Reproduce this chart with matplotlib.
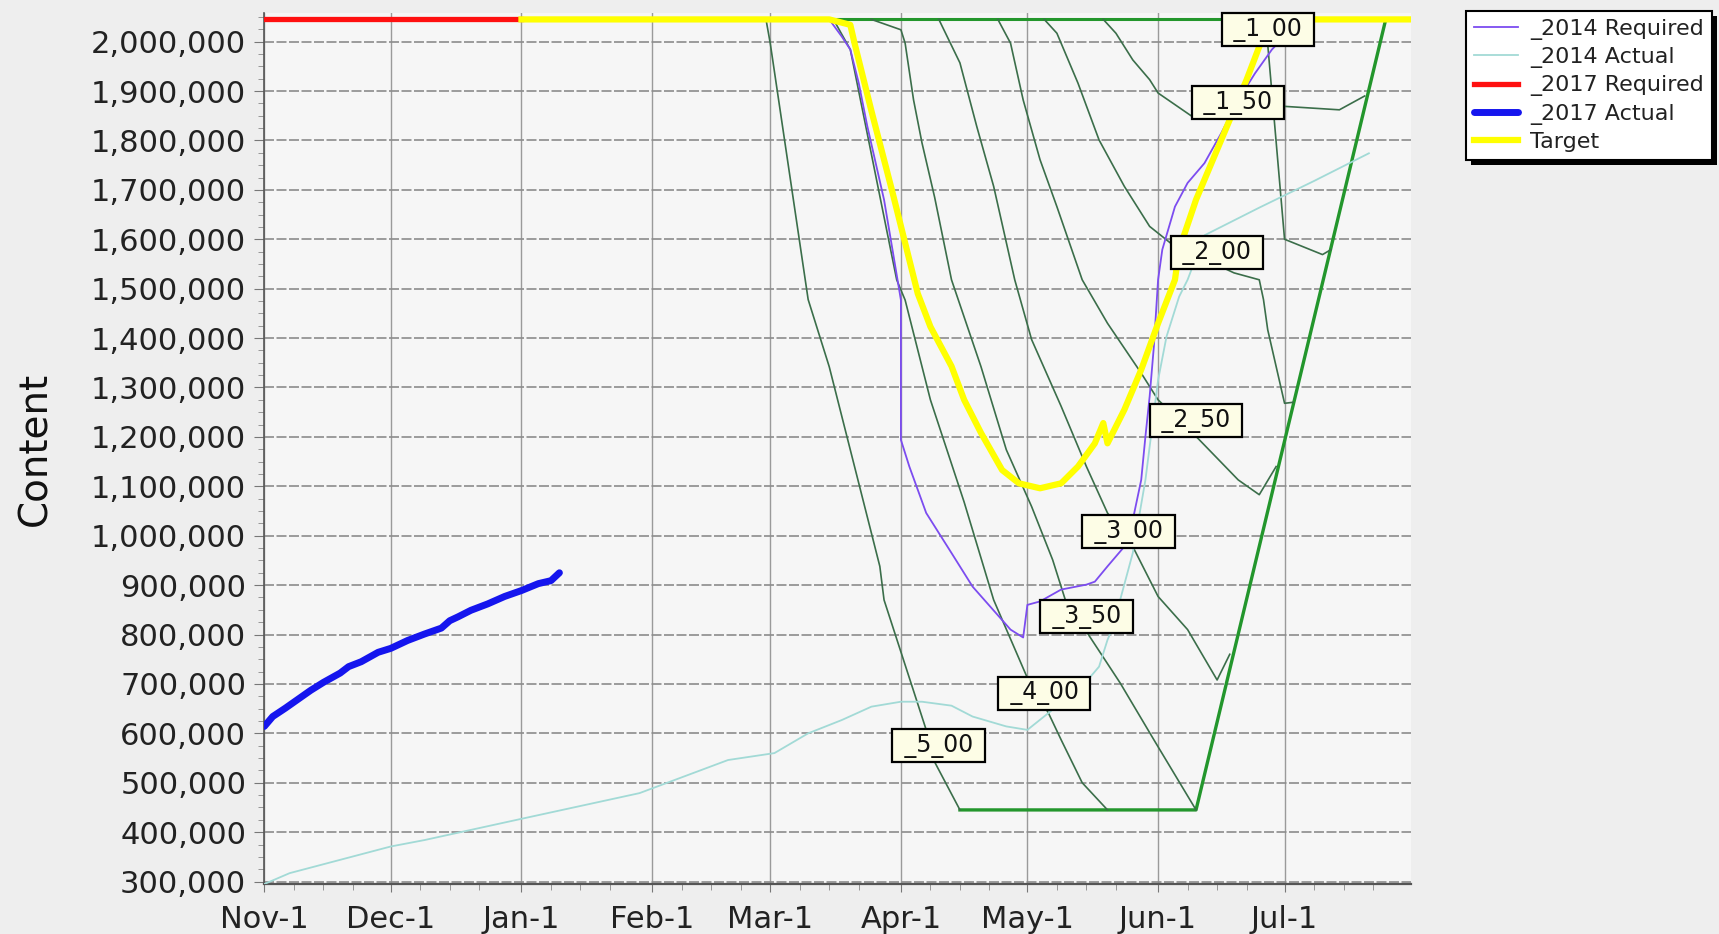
import numpy as np
import pandas as pd
import matplotlib
matplotlib.use("Agg")
import matplotlib.pyplot as plt
import matplotlib.dates as mdates
from matplotlib.ticker import FuncFormatter, MultipleLocator
from matplotlib.patches import Rectangle

# ------------------------------------------------------------
# Data (content values in thousands)
# ------------------------------------------------------------
req17_dates = ["2016-11-01", "2017-01-01"]
req17_vals = [2045, 2045]

act17_dates = ["2016-11-01", "2016-11-03", "2016-11-06", "2016-11-09", "2016-11-12",
               "2016-11-15", "2016-11-19", "2016-11-21", "2016-11-24", "2016-11-28",
               "2016-12-01", "2016-12-05", "2016-12-09", "2016-12-13", "2016-12-15",
               "2016-12-17", "2016-12-20", "2016-12-24", "2016-12-28", "2017-01-01",
               "2017-01-05", "2017-01-08", "2017-01-10"]
act17_vals = [614, 634, 651, 669, 687, 703, 722, 735, 745, 764, 772, 788, 801, 813,
              828, 836, 849, 862, 877, 889, 903, 909, 925]

act14_dates = ["2016-11-01", "2016-11-07", "2016-12-01", "2016-12-09", "2017-01-01",
               "2017-01-29", "2017-02-19", "2017-03-02", "2017-03-10", "2017-03-18",
               "2017-03-25", "2017-04-01", "2017-04-06", "2017-04-13", "2017-04-18",
               "2017-04-26", "2017-05-01", "2017-05-07", "2017-05-14", "2017-05-18",
               "2017-05-20", "2017-05-22", "2017-05-23", "2017-05-26", "2017-05-29",
               "2017-06-01", "2017-06-03", "2017-06-06", "2017-06-08", "2017-06-12",
               "2017-06-25", "2017-07-08", "2017-07-21"]
act14_vals = [295, 317, 371, 384, 427, 479, 546, 560, 600, 627, 654, 664, 664, 656,
              634, 614, 607, 648, 695, 735, 789, 830, 870, 965, 1113, 1315, 1403,
              1484, 1518, 1608, 1664, 1718, 1774]

req14_dates = ["2017-03-15", "2017-03-18", "2017-03-20", "2017-03-22", "2017-03-24",
               "2017-03-28", "2017-03-30", "2017-04-01", "2017-04-01", "2017-04-03",
               "2017-04-07", "2017-04-13", "2017-04-18", "2017-04-27", "2017-04-30",
               "2017-05-01", "2017-05-04", "2017-05-09", "2017-05-15", "2017-05-17",
               "2017-05-20", "2017-05-24", "2017-05-26", "2017-05-28", "2017-05-29",
               "2017-05-30", "2017-05-31", "2017-06-01", "2017-06-02", "2017-06-05",
               "2017-06-08", "2017-06-12", "2017-06-16", "2017-06-20", "2017-06-24",
               "2017-06-28", "2017-07-01"]
req14_vals = [2045, 2010, 1984, 1916, 1830, 1680, 1579, 1477, 1194, 1140, 1046, 965,
              897, 810, 794, 860, 867, 891, 901, 907, 938, 978, 1032, 1113, 1201,
              1282, 1383, 1518, 1579, 1666, 1714, 1754, 1815, 1882, 1936, 1984, 2011]

target_dates = ["2017-01-01", "2017-03-15", "2017-03-20", "2017-03-21", "2017-03-25",
                "2017-03-30", "2017-04-05", "2017-04-08", "2017-04-13", "2017-04-16",
                "2017-04-20", "2017-04-25", "2017-04-29", "2017-05-04", "2017-05-09",
                "2017-05-13", "2017-05-17", "2017-05-19", "2017-05-20", "2017-05-24",
                "2017-05-28", "2017-06-01", "2017-06-05", "2017-06-06", "2017-06-10",
                "2017-06-14", "2017-06-18", "2017-06-22", "2017-06-25", "2017-06-27",
                "2017-06-30", "2017-07-31"]
target_vals = [2045, 2045, 2034, 1997, 1860, 1695, 1490, 1423, 1343, 1275, 1208, 1133,
               1106, 1096, 1106, 1140, 1187, 1228, 1187, 1255, 1336, 1430, 1518, 1579,
               1680, 1761, 1842, 1923, 1990, 2025, 2045, 2045]

# green guide curves
top_dates = ["2017-02-28", "2017-07-31"]
top_vals = [2045, 2045]
floor_dates = ["2017-04-15", "2017-06-10", "2017-07-25"]
floor_vals = [445, 445, 2045]

g500_dates = ["2017-02-28", "2017-03-01", "2017-03-10", "2017-03-15", "2017-03-21",
              "2017-03-27", "2017-03-28", "2017-04-07", "2017-04-09", "2017-04-15"]
g500_vals = [2045, 1997, 1478, 1342, 1140, 938, 870, 607, 542, 445]

g400_dates = ["2017-03-16", "2017-03-20", "2017-03-31", "2017-04-02", "2017-04-08",
              "2017-04-16", "2017-04-23", "2017-05-01", "2017-05-06", "2017-05-09",
              "2017-05-14", "2017-05-20"]
g400_vals = [2045, 1984, 1518, 1477, 1275, 1068, 870, 712, 641, 587, 500, 445]

g350_dates = ["2017-03-25", "2017-04-01", "2017-04-02", "2017-04-04", "2017-04-06",
              "2017-04-09", "2017-04-13", "2017-04-20", "2017-04-26", "2017-05-02",
              "2017-05-07", "2017-05-10", "2017-05-15", "2017-05-23", "2017-05-31",
              "2017-06-10"]
g350_vals = [2045, 2024, 1997, 1882, 1795, 1685, 1518, 1342, 1174, 1059, 951, 870,
             806, 702, 587, 445]

g300_dates = ["2017-04-10", "2017-04-15", "2017-04-19", "2017-04-23", "2017-04-28",
              "2017-05-02", "2017-05-09", "2017-05-15", "2017-05-20", "2017-05-26",
              "2017-06-01", "2017-06-08", "2017-06-15", "2017-06-18"]
g300_vals = [2045, 1957, 1828, 1707, 1518, 1397, 1262, 1140, 1046, 978, 877, 810,
             708, 760]

g250_dates = ["2017-04-24", "2017-04-27", "2017-04-30", "2017-05-04", "2017-05-08",
              "2017-05-14", "2017-05-20", "2017-05-28", "2017-06-01", "2017-06-10",
              "2017-06-20", "2017-06-25", "2017-06-29"]
g250_vals = [2045, 1997, 1882, 1761, 1666, 1518, 1430, 1329, 1275, 1201, 1113, 1083,
             1140]

g200_dates = ["2017-05-05", "2017-05-08", "2017-05-13", "2017-05-18", "2017-05-24",
              "2017-05-30", "2017-06-04", "2017-06-19", "2017-06-25", "2017-06-26",
              "2017-06-27", "2017-07-01", "2017-07-03"]
g200_vals = [2045, 2017, 1916, 1801, 1707, 1626, 1592, 1532, 1518, 1478, 1417, 1268,
             1270]

g150_dates = ["2017-05-19", "2017-05-22", "2017-05-26", "2017-05-30", "2017-06-01",
              "2017-06-09", "2017-07-01", "2017-07-14", "2017-07-20"]
g150_vals = [2045, 2017, 1963, 1923, 1896, 1849, 1869, 1862, 1890]

g100_dates = ["2017-06-26", "2017-06-27", "2017-07-01", "2017-07-10", "2017-07-12"]
g100_vals = [2045, 1995, 1600, 1569, 1579]

label_names = ["_1_00", "_1_50", "_2_00", "_2_50", "_3_00", "_3_50", "_4_00", "_5_00"]
label_dates = ["2017-06-27", "2017-06-20", "2017-06-15", "2017-06-10", "2017-05-25",
               "2017-05-15", "2017-05-05", "2017-04-10"]
label_vals = [2024, 1876, 1573, 1233, 1008, 836, 681, 575]


def dt(lst):
    return pd.to_datetime(lst)


def kv(lst):
    return np.array(lst) * 1000.0


# ------------------------------------------------------------
# Figure
# ------------------------------------------------------------
plt.rcParams["font.family"] = "DejaVu Sans"
fig = plt.figure(figsize=(17.19, 9.34), dpi=100, facecolor="#eeeeee")
ax = fig.add_axes([0.15375, 0.0535, 0.6671, 0.9326])
ax.set_facecolor("#f6f6f6")

dark_green = "#3b6e4a"
bright_green = "#23962c"

ax.plot(dt(top_dates), kv(top_vals), color=bright_green, lw=2.2, zorder=2)
ax.plot(dt(floor_dates), kv(floor_vals), color=bright_green, lw=2.4, zorder=2)
for dd, vv in [(g500_dates, g500_vals), (g400_dates, g400_vals), (g350_dates, g350_vals),
               (g300_dates, g300_vals), (g250_dates, g250_vals), (g200_dates, g200_vals),
               (g150_dates, g150_vals), (g100_dates, g100_vals)]:
    ax.plot(dt(dd), kv(vv), color=dark_green, lw=1.2, zorder=2)

l_req14, = ax.plot(dt(req14_dates), kv(req14_vals), color="#7c4cf0", lw=1.3, zorder=4,
                   label="_2014 Required")
l_act14, = ax.plot(dt(act14_dates), kv(act14_vals), color="#a2dad6", lw=1.3, zorder=3,
                   label="_2014 Actual")
l_req17, = ax.plot(dt(req17_dates), kv(req17_vals), color="#ff1010", lw=3.8, zorder=5,
                   label="_2017 Required")
l_act17, = ax.plot(dt(act17_dates), kv(act17_vals), color="#1515ee", lw=5, zorder=6,
                   solid_capstyle="round", label="_2017 Actual")
l_tgt, = ax.plot(dt(target_dates), kv(target_vals), color="#ffff00", lw=4.5, zorder=5,
                 label="Target")

for name, d, v in zip(label_names, dt(label_dates), kv(label_vals)):
    ax.text(d, v, " " + name + " ", ha="center", va="center", fontsize=17, zorder=8,
            color="#111111",
            bbox=dict(boxstyle="square,pad=0.19", facecolor="#fdfde6",
                      edgecolor="black", linewidth=1.6))

# axes, ticks, grid
ax.set_xlim(pd.Timestamp("2016-11-01"), pd.Timestamp("2017-07-31"))
ax.set_ylim(295000, 2058000)

ax.xaxis.set_major_locator(mdates.MonthLocator())
ax.xaxis.set_minor_locator(mdates.DayLocator(bymonthday=[8, 15, 22]))
ax.xaxis.set_major_formatter(FuncFormatter(
    lambda x, pos: f"{mdates.num2date(x):%b}-{mdates.num2date(x).day}"))
ax.yaxis.set_major_locator(MultipleLocator(100000))
ax.yaxis.set_minor_locator(MultipleLocator(25000))
ax.yaxis.set_major_formatter(FuncFormatter(lambda v, pos: f"{int(round(v)):,}"))

ax.tick_params(axis="both", which="major", labelsize=22, color="#777777",
               labelcolor="#222222")
ax.tick_params(axis="y", which="major", length=7, pad=6)
ax.tick_params(axis="x", which="major", length=6, pad=9)
ax.tick_params(axis="both", which="minor", length=4, color="#888888")

ax.grid(True, axis="y", which="major", color="#8c8c8c", lw=1.2, ls=(0, (6, 1.5)))
ax.grid(True, axis="x", which="major", color="#9a9a9a", lw=1.0)
ax.set_axisbelow(True)

for side in ["top", "right"]:
    ax.spines[side].set_visible(False)
ax.spines["left"].set_color("#555555")
ax.spines["left"].set_linewidth(1.2)
ax.spines["bottom"].set_color("#555555")
ax.spines["bottom"].set_linewidth(1.6)

ax.set_ylabel("Content", fontsize=28, color="#111111")
ax.yaxis.set_label_coords(-0.183, 0.5)

# legend (runs off the right edge like the original)
leg = fig.legend(handles=[l_req14, l_act14, l_req17, l_act17, l_tgt],
                 loc="upper left", bbox_to_anchor=(1466 / 1719, 1 - 11 / 934),
                 fontsize=16, frameon=True, fancybox=False, framealpha=1,
                 facecolor="white", edgecolor="black", borderpad=0.35,
                 labelspacing=0.33, handlelength=2.0, handletextpad=0.55,
                 borderaxespad=0)
leg.get_frame().set_linewidth(1.5)
for t in leg.get_texts():
    t.set_color("#222222")

fig.canvas.draw()
bb = leg.get_window_extent().transformed(fig.transFigure.inverted())
dx, dy = 5 / 1719, 5 / 934
shadow = Rectangle((bb.x0 + dx, bb.y0 - dy), bb.width, bb.height,
                   transform=fig.transFigure, facecolor="black", edgecolor="none",
                   zorder=4.5)
fig.add_artist(shadow)

fig.savefig("out.png", dpi=100, facecolor=fig.get_facecolor())
